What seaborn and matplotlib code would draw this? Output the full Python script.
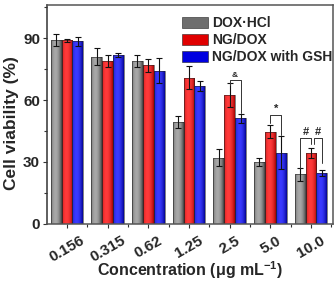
import numpy as np
import pandas as pd
import matplotlib
matplotlib.use('Agg')
import matplotlib.pyplot as plt
import seaborn as sns
from matplotlib.colors import to_rgb
from matplotlib.patches import Patch
from matplotlib.ticker import MultipleLocator, FixedLocator

concentrations = ['0.156', '0.315', '0.62', '1.25', '2.5', '5.0', '10.0']
groups = ['DOX·HCl', 'NG/DOX', 'NG/DOX with GSH']
dox_hcl = [89.0, 81.0, 79.0, 49.3, 32.1, 30.0, 24.0]
dox_hcl_err = [3.0, 4.0, 3.0, 2.8, 4.0, 1.8, 3.0]
ng_dox = [88.9, 78.9, 76.9, 70.8, 62.4, 44.7, 34.5]
ng_dox_err = [0.8, 2.7, 3.2, 5.5, 5.7, 3.2, 2.5]
ng_dox_gsh = [88.4, 81.9, 74.3, 66.8, 51.1, 34.5, 24.5]
ng_dox_gsh_err = [2.2, 1.0, 6.0, 2.4, 2.1, 8.0, 1.5]

means = [dox_hcl, ng_dox, ng_dox_gsh]
errs = [dox_hcl_err, ng_dox_err, ng_dox_gsh_err]

# significance brackets
sig_groups = [4, 5, 6, 6]
sig_pairs = [(1, 2), (1, 2), (0, 1), (1, 2)]
sig_tops = [69.7, 52.9, 41.4, 41.4]
sig_left_ends = [67.3, 48.7, 27.0, 38.7]
sig_right_ends = [53.7, 43.1, 38.7, 29.5]
sig_labels = ['&', '*', '#', '#']

df = pd.DataFrame({
    'conc': concentrations * 3,
    'group': sum([[g] * len(concentrations) for g in groups], []),
    'value': dox_hcl + ng_dox + ng_dox_gsh,
})

mid_colors = ['#6e6e6e', '#e00000', '#0000e0']
edge_shades = [('#3c3c3c', '#a8a8a8'), ('#a00000', '#ff3a3a'), ('#00008c', '#3a3aff')]

sns.set_style('ticks')
plt.rcParams['font.family'] = ['Liberation Sans', 'DejaVu Sans']
plt.rcParams['font.weight'] = 'bold'
plt.rcParams['mathtext.fontset'] = 'custom'
plt.rcParams['mathtext.rm'] = 'Liberation Sans:bold'
plt.rcParams['mathtext.default'] = 'rm'

fig = plt.figure(figsize=(3.36, 2.82), dpi=100)
ax = fig.add_axes([0.140, 0.206, 0.851, 0.776])

sns.barplot(data=df, x='conc', y='value', hue='group', order=concentrations,
            hue_order=groups, palette=mid_colors, width=0.8, errorbar=None,
            legend=False, ax=ax, edgecolor='#222222', linewidth=0.4)

bar_conts = list(ax.containers)

t = np.linspace(0, 1, 64)
prof = np.sin(np.pi * (0.15 + 0.85 * t)) ** 0.8
centers = []
for k, cont in enumerate(bar_conts):
    e = np.array(to_rgb(edge_shades[k][0]))
    c = np.array(to_rgb(edge_shades[k][1]))
    grad = e[None, :] + (c - e)[None, :] * prof[:, None]
    grad = grad[None, :, :]
    xs, hs = [], []
    for p in cont.patches:
        x0, w, h = p.get_x(), p.get_width(), p.get_height()
        im = ax.imshow(grad, extent=[x0, x0 + w, 0, h], aspect='auto',
                       origin='lower', zorder=1.5, interpolation='bilinear')
        im.set_clip_path(p)
        p.set_facecolor('none')
        p.set_zorder(2)
        xs.append(x0 + w / 2)
        hs.append(h)
    centers.append(xs)
    ax.errorbar(xs, hs, yerr=errs[k], fmt='none', ecolor='#111111',
                elinewidth=0.8, capsize=2, capthick=0.8, zorder=3)

for gi, (ha, hb), top, le, re, lab in zip(sig_groups, sig_pairs, sig_tops,
                                          sig_left_ends, sig_right_ends, sig_labels):
    xa = centers[ha][gi]
    xb = centers[hb][gi]
    if lab == '#' and ha == 1:
        xa += 0.07
    ax.plot([xa, xa, xb, xb], [le, top, top, re], color='#333333', lw=0.7, zorder=4)
    fs = 6 if lab == '&' else 8
    ax.text((xa + xb) / 2, top + 0.6, lab, ha='center', va='bottom',
            fontsize=fs, fontweight='bold', zorder=4)

ax.set_xlim(-0.49, 6.54)
ax.set_ylim(0, 106)
ax.yaxis.set_major_locator(FixedLocator([0, 30, 60, 90]))
ax.yaxis.set_minor_locator(MultipleLocator(15))
ax.set_xticks(range(len(concentrations)))
ax.xaxis.set_minor_locator(FixedLocator(np.arange(-0.5, 6.6, 1.0)))
ax.tick_params(axis='both', which='major', direction='out', length=3, width=0.8,
               color='#333333', labelsize=11, pad=2)
ax.tick_params(axis='x', which='major', pad=4, labelsize=11)
ax.tick_params(axis='both', which='minor', direction='out', length=2, width=0.8,
               color='#333333')
ax.set_xticklabels(concentrations, rotation=30, ha='center', fontweight='bold')
for lbl in ax.get_yticklabels():
    lbl.set_fontweight('bold')

for s in ax.spines.values():
    s.set_visible(True)
    s.set_color('#555555')
    s.set_linewidth(1.1)
ax.spines['left'].set_color('#333333')

ax.set_xlabel('Concentration (μg mL$^{-1}$)', fontsize=11.5, fontweight='bold')
ax.xaxis.set_label_coords(0.5, -0.16)
ax.set_ylabel('Cell viability (%)', fontsize=12.5, fontweight='bold', labelpad=3)
ax.yaxis.label.set_y(0.46)

handles = [Patch(facecolor=c, edgecolor='#222222', linewidth=0.4) for c in mid_colors]
ax.legend(handles, groups, loc='upper left', bbox_to_anchor=(0.472, 0.95),
          frameon=False, handlelength=1.87, handleheight=0.85,
          handletextpad=0.3, labelspacing=0.22, borderpad=0, borderaxespad=0,
          prop={'weight': 'bold', 'size': 10})

fig.savefig('out.png', dpi=100)
